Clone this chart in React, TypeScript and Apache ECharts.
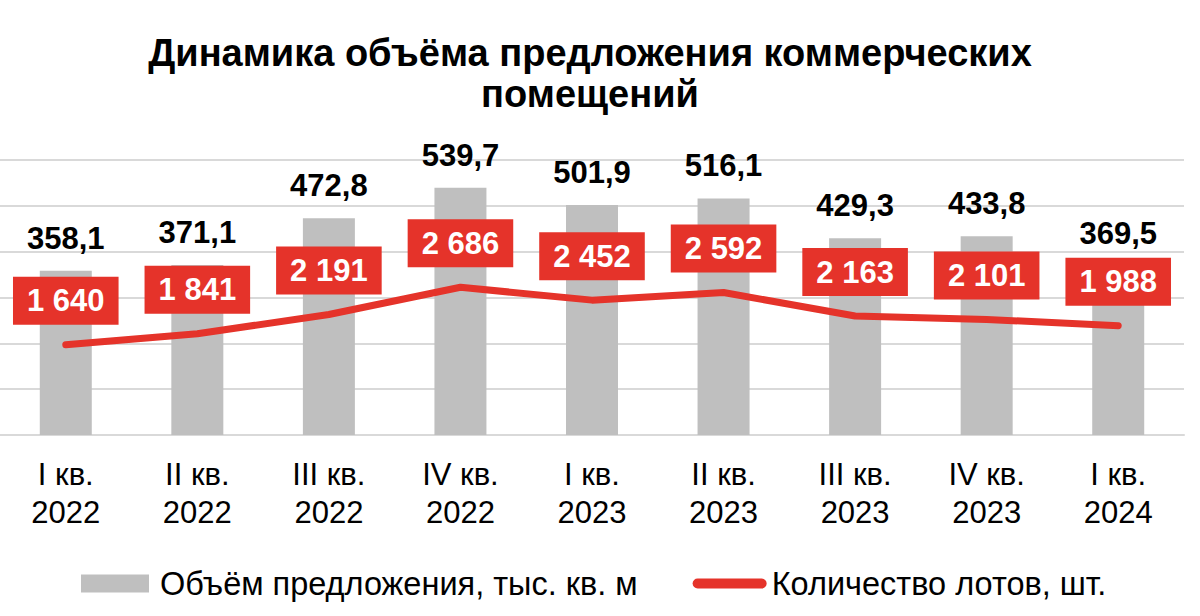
import React, { useEffect, useRef } from "react";
import * as echarts from "echarts";

const categories = [
  "I кв.\n2022",
  "II кв.\n2022",
  "III кв.\n2022",
  "IV кв.\n2022",
  "I кв.\n2023",
  "II кв.\n2023",
  "III кв.\n2023",
  "IV кв.\n2023",
  "I кв.\n2024",
];
const volumeValues = [358.1, 371.1, 472.8, 539.7, 501.9, 516.1, 429.3, 433.8, 369.5];
const lotValues = [1640, 1841, 2191, 2686, 2452, 2592, 2163, 2101, 1988];
const seriesNames = ["Объём предложения, тыс. кв. м", "Количество лотов, шт."];
const titleText = "Динамика объёма предложения коммерческих\nпомещений";

const FONT = "'Liberation Sans', Arial, sans-serif";
const RED = "#E5332A";
const GRAY = "#BFBFBF";

const fmtComma = (v: number) => v.toFixed(1).replace(".", ",");
const fmtSpace = (v: number) => String(v).replace(/\B(?=(\d{3})+(?!\d))/g, " ");

export default function App() {
  const ref = useRef<HTMLDivElement>(null);
  useEffect(() => {
    if (!ref.current) return;
    const chart = echarts.init(ref.current, null, { renderer: "svg" });
    chart.setOption({
      animation: false,
      backgroundColor: "#fff",
      textStyle: { fontFamily: FONT },
      title: {
        text: titleText,
        left: 585,
        textAlign: "center",
        top: 27,
        textStyle: {
          fontFamily: FONT,
          fontSize: 38,
          fontWeight: "bold",
          color: "#000",
          lineHeight: 41,
        },
      },
      legend: {
        left: 76,
        top: 562,
        itemWidth: 74,
        itemHeight: 18,
        itemGap: 55,
        textStyle: { fontFamily: FONT, fontSize: 32.5, color: "#000" },
        data: [
          { name: seriesNames[0], icon: "path://M0,0 M74,18 M0,0 L68,0 L68,18 L0,18 Z" },
          {
            name: seriesNames[1],
            icon: "path://M0,0 M74,18 M5,4 L69,4 A5,5 0 0 1 69,14 L5,14 A5,5 0 0 1 5,4 Z",
          },
        ],
      },
      grid: { width: 1188, right: 16, top: 160, bottom: 181 },
      xAxis: {
        type: "category",
        data: categories,
        axisTick: { show: false },
        axisLine: { lineStyle: { color: "#D9D9D9", width: 2 } },
        axisLabel: {
          fontFamily: FONT,
          fontSize: 31,
          lineHeight: 38,
          color: "#000",
          margin: 20,
          interval: 0,
        },
      },
      yAxis: [
        {
          type: "value",
          min: 0,
          max: 600,
          interval: 100,
          axisLabel: { show: false },
          axisLine: { show: false },
          axisTick: { show: false },
          splitLine: { lineStyle: { color: "#D9D9D9", width: 2 } },
        },
        {
          type: "value",
          min: 0,
          max: 5000,
          interval: 1000,
          axisLabel: { show: false },
          axisLine: { show: false },
          axisTick: { show: false },
          splitLine: { show: false },
        },
      ],
      series: [
        {
          name: seriesNames[0],
          type: "bar",
          data: volumeValues,
          barWidth: 52,
          itemStyle: { color: GRAY },
          label: {
            show: true,
            position: "top",
            distance: 17,
            fontFamily: FONT,
            fontSize: 31,
            fontWeight: "bold",
            color: "#000",
            formatter: (p: any) => fmtComma(p.value),
          },
        },
        {
          name: seriesNames[1],
          type: "line",
          yAxisIndex: 1,
          data: lotValues,
          symbol: "circle",
          symbolSize: 2,
          showSymbol: true,
          lineStyle: { color: RED, width: 7, cap: "round", join: "round" },
          itemStyle: { color: RED },
          label: {
            show: true,
            position: "top",
            distance: 19,
            fontFamily: FONT,
            fontSize: 31,
            fontWeight: "bold",
            color: "#fff",
            backgroundColor: RED,
            padding: [8, 14],
            lineHeight: 32,
            formatter: (p: any) => fmtSpace(p.value),
          },
          z: 3,
        },
      ],
    });
    return () => chart.dispose();
  }, []);
  return (
    <div
      ref={ref}
      style={{ position: "absolute", left: 0, top: 0, width: 1200, height: 616 }}
    />
  );
}
